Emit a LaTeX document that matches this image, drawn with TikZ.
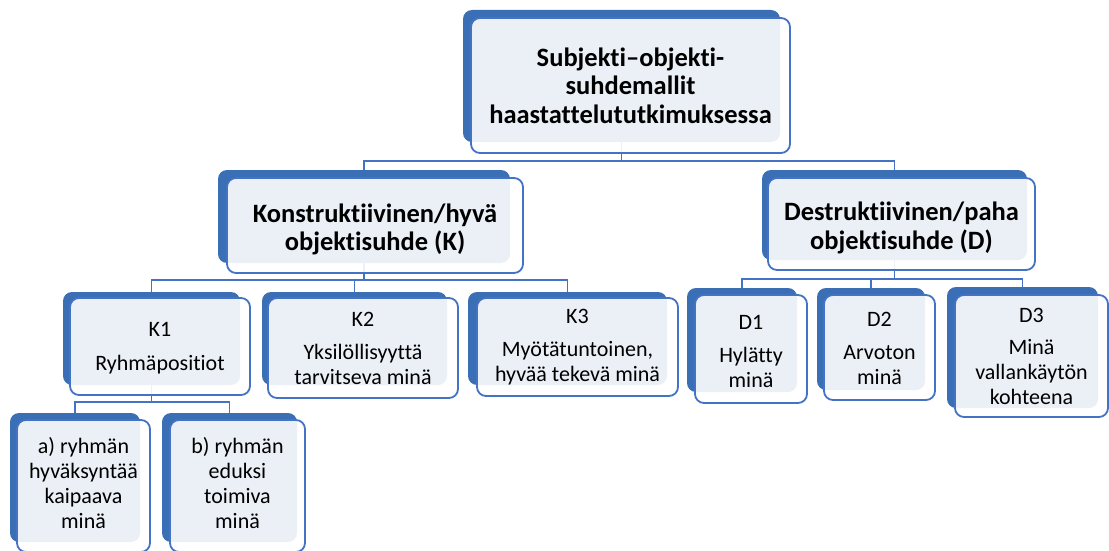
\documentclass[tikz,border=0pt]{standalone}
\usepackage{fontspec}
\setmainfont{Carlito}[Ligatures=NoCommon]
\usetikzlibrary{fit,backgrounds}
\definecolor{accent}{HTML}{3A6EB5}
\definecolor{edgeblue}{HTML}{4472C4}
\tikzset{
  backshape/.style={fill=accent, draw=none, rounded corners=9pt, inner sep=0pt},
  frontshape/.style={draw=edgeblue, line width=1.8pt, fill=white, fill opacity=0.9,
    rounded corners=9pt, inner sep=0pt},
  cardtext/.style={align=center, text=black, inner sep=0pt},
  headtext/.style={cardtext, font=\fontsize{26.5}{28.5}\selectfont\bfseries},
  leaftext/.style={cardtext, font=\fontsize{22}{25}\selectfont},
  conn/.style={draw=edgeblue, line width=1.6pt},
}
% #1 name, #2/#3 corners of the dark back plate, #4/#5 corners of the front card,
% #6 text style, #7 text
\newcommand\orgbox[7]{%
  \node[backshape, fit={(#2) (#3)}] (#1-b) {};
  \node[frontshape, fit={(#4) (#5)}] (#1) {};
  \node[#6] (#1-t) at (#1.center) {#7};
}
\begin{document}
\begin{tikzpicture}[x=1pt, y=-1pt]
  \useasboundingbox (0,0) rectangle (1109,551);
  \clip (0,0) rectangle (1109,551);

  % root
  \orgbox{top}{463,10}{780,142}{471,18}{790,153}{headtext}
    {Subjekti–objekti-\\suhdemallit\\haastattelututkimuksessa}

  % second level
  \orgbox{k}{218,170}{510,263}{227,178}{523,273}{headtext, yshift=-4pt}
    {Konstruktiivinen/hyvä\\objektisuhde (K)}
  \orgbox{d}{762,170}{1027,260}{768,178}{1035,270}{headtext, yshift=-4pt}
    {Destruktiivinen/paha\\objektisuhde (D)}

  % constructive branch
  \orgbox{k1}{63,292}{240,385}{70,298}{250,395}{leaftext, yshift=-2pt}
    {K1\\[9pt]Ryhmäpositiot}
  \orgbox{k2}{262,292}{447,385}{268,298}{458,398}{leaftext}
    {K2\\[8pt]Yksilöllisyyttä\\tarvitseva minä}
  \orgbox{k3}{468,292}{667,385}{477,298}{678,396}{leaftext}
    {K3\\[8pt]Myötätuntoinen,\\hyvää tekevä minä}

  % group positions
  \orgbox{ka}{10,413}{140,542}{17,420}{150,552}{leaftext, yshift=3pt}
    {a) ryhmän\\hyväksyntää\\kaipaava\\minä}
  \orgbox{kb}{162,413}{297,542}{170,420}{305,552}{leaftext, yshift=3pt}
    {b) ryhmän\\eduksi\\toimiva\\minä}

  % destructive branch
  \orgbox{d1}{687,288}{797,392}{695,295}{807,403}{leaftext, yshift=-2.5pt}
    {D1\\[8pt]Hylätty\\minä}
  \orgbox{d2}{817,288}{925,390}{824,295}{935,400}{leaftext, yshift=-1pt}
    {D2\\[8pt]Arvoton\\minä}
  \orgbox{d3}{947,287}{1098,408}{955,295}{1108,417}{leaftext}
    {D3\\[7pt]Minä\\vallankäytön\\kohteena}

  % rails of the elbow connectors
  \coordinate (r0) at (0,161);
  \coordinate (rk) at (0,280);
  \coordinate (rd) at (0,279);
  \coordinate (rk1) at (0,402);

  \begin{scope}[on background layer]
    \draw[conn] (top-b.south) -- (top-b.south |- r0) -| (k-b.north);
    \draw[conn] (top-b.south) -- (top-b.south |- r0) -| (d-b.north);
    \foreach \c in {k1,k2,k3}
      \draw[conn] (k-b.south) -- (k-b.south |- rk) -| (\c-b.north);
    \foreach \c in {d1,d2,d3}
      \draw[conn] (d-b.south) -- (d-b.south |- rd) -| (\c-b.north);
    \foreach \c in {ka,kb}
      \draw[conn] (k1-b.south) -- (k1-b.south |- rk1) -| (\c-b.north);
  \end{scope}
\end{tikzpicture}
\end{document}
